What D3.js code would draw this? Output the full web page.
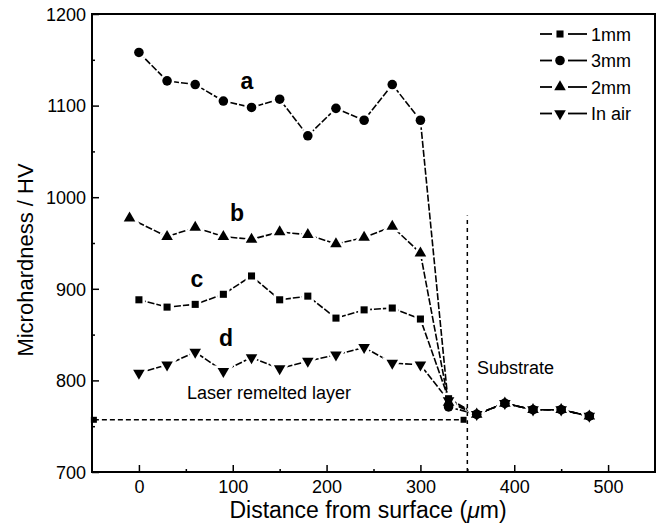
<!DOCTYPE html>
<html><head><meta charset="utf-8">
<script src="https://cdn.jsdelivr.net/npm/d3@7"></script>
<style>
body{margin:0;background:#fff;}
text{font-family:"Liberation Sans",Arial,sans-serif;fill:#000;}
</style></head>
<body><svg id="c" width="661" height="524"></svg>
<script>
// ---- data ----
const xTicks = [0, 100, 200, 300, 400, 500];
const xMinor = [50, 150, 250, 350, 450];
const yTicks = [700, 800, 900, 1000, 1100, 1200];
const yMinor = [750, 850, 950, 1050, 1150];

const depth = [0, 30, 60, 90, 120, 150, 180, 210, 240, 270, 300, 330, 360, 390, 420, 450, 480];
const depth2mm = [-10, 30, 60, 90, 120, 150, 180, 210, 240, 270, 300, 330, 360, 390, 420, 450, 480];
const hv1mm = [888, 880, 883, 894, 914, 888, 892, 868, 877, 879, 867, 780, 763, 775, 768, 768, 761];
const hv3mm = [1158, 1127, 1123, 1105, 1098, 1107, 1067, 1097, 1084, 1123, 1084, 771, 763, 775, 768, 768, 761];
const hv2mm = [977, 957, 967, 957, 954, 962, 959, 949, 956, 968, 939, 776, 763, 775, 768, 768, 761];
const hvAir = [808, 817, 831, 810, 825, 813, 821, 828, 836, 819, 817, 778, 763, 775, 768, 768, 761];

const seriesNames = ["1mm", "3mm", "2mm", "In air"];
const curveLabels = ["a", "b", "c", "d"];
const refLineX = [-48, 346];
const refLineY = [757, 757];
const boundaryX = [350, 350];
const boundaryY = [700, 980];

// ---- layout ----
const svg = d3.select("#c");
const L = 92, R = 655, T = 14, B = 472;
const x = d3.scaleLinear().domain([-50, 550]).range([L, R]);
const y = d3.scaleLinear().domain([700, 1200]).range([B, T]);

const series = [
  {name: seriesNames[0], xs: depth, ys: hv1mm, sym: d3.symbolSquare, size: 50, rot: 0},
  {name: seriesNames[1], xs: depth, ys: hv3mm, sym: d3.symbolCircle, size: 72, rot: 0},
  {name: seriesNames[2], xs: depth2mm, ys: hv2mm, sym: d3.symbolTriangle, size: 58, rot: 0},
  {name: seriesNames[3], xs: depth, ys: hvAir, sym: d3.symbolTriangle, size: 58, rot: 180}
];

// axes
const fmt = d3.format("d");
const gx = svg.append("g").attr("transform", `translate(0,${B})`)
  .call(d3.axisBottom(x).tickValues(xTicks).tickFormat(fmt).tickSizeInner(-7).tickSizeOuter(0).tickPadding(8));
const gxm = svg.append("g").attr("transform", `translate(0,${B})`)
  .call(d3.axisBottom(x).tickValues(xMinor).tickSizeInner(-3).tickSizeOuter(0).tickFormat(""));
const gy = svg.append("g").attr("transform", `translate(${L},0)`)
  .call(d3.axisLeft(y).tickValues(yTicks).tickFormat(fmt).tickSizeInner(-7).tickSizeOuter(0).tickPadding(6));
const gym = svg.append("g").attr("transform", `translate(${L},0)`)
  .call(d3.axisLeft(y).tickValues(yMinor).tickSizeInner(-3).tickSizeOuter(0).tickFormat(""));
[gx, gxm, gy, gym].forEach(g => {
  g.select(".domain").remove();
  g.selectAll("line").attr("stroke", "#000").attr("stroke-width", 1.5);
  g.selectAll("text").style("font-size", "18px").attr("fill", "#000");
});
gy.selectAll("text").attr("dy", "0.35em");

svg.append("rect").attr("x", L).attr("y", T).attr("width", R - L).attr("height", B - T)
  .attr("fill", "none").attr("stroke", "#000").attr("stroke-width", 2);

// reference lines
const line2 = d3.line().x(d => x(d[0])).y(d => y(d[1]));
svg.append("path").attr("d", line2(refLineX.map((v, i) => [v, refLineY[i]])))
  .attr("fill", "none").attr("stroke", "#000").attr("stroke-width", 1.5).attr("stroke-dasharray", "5,3");
svg.append("path").attr("d", line2(boundaryX.map((v, i) => [v, boundaryY[i]])))
  .attr("fill", "none").attr("stroke", "#000").attr("stroke-width", 1.5).attr("stroke-dasharray", "4,4");
refLineX.forEach((v, i) => {
  svg.append("rect").attr("x", x(v) - 3).attr("y", y(refLineY[i]) - 3).attr("width", 6).attr("height", 6).attr("fill", "#000");
});

// series lines
series.forEach(s => {
  const pts = s.xs.map((v, i) => [v, s.ys[i]]);
  svg.append("path").attr("d", line2(pts)).attr("fill", "none").attr("stroke", "#000")
    .attr("stroke-width", 1.6).attr("stroke-dasharray", "7,2");
});
// halos
series.forEach(s => {
  s.xs.forEach((v, i) => {
    svg.append("path").attr("d", d3.symbol(s.sym, s.size)())
      .attr("transform", `translate(${x(v)},${y(s.ys[i])}) rotate(${s.rot})`)
      .attr("fill", "#fff").attr("stroke", "#fff").attr("stroke-width", 5);
  });
});
// markers
series.forEach(s => {
  s.xs.forEach((v, i) => {
    svg.append("path").attr("d", d3.symbol(s.sym, s.size)())
      .attr("transform", `translate(${x(v)},${y(s.ys[i])}) rotate(${s.rot})`)
      .attr("fill", "#000");
  });
});

// curve labels
const labelPos = [[247, 89], [237, 221], [197, 287], [226, 346]];
curveLabels.forEach((t, i) => {
  svg.append("text").attr("x", labelPos[i][0]).attr("y", labelPos[i][1]).attr("text-anchor", "middle")
    .style("font-size", "23px").style("font-weight", "bold").text(t);
});

svg.append("text").attr("x", 187).attr("y", 399).style("font-size", "18px").text("Laser remelted layer");
svg.append("text").attr("x", 477).attr("y", 374).style("font-size", "18px").text("Substrate");

// legend
series.forEach((s, i) => {
  const cy = 34 + i * 26.5;
  const g = svg.append("g");
  g.append("line").attr("x1", 540).attr("x2", 552).attr("y1", cy).attr("y2", cy).attr("stroke", "#000").attr("stroke-width", 1.8);
  g.append("line").attr("x1", 568).attr("x2", 587).attr("y1", cy).attr("y2", cy).attr("stroke", "#000").attr("stroke-width", 1.8);
  g.append("path").attr("d", d3.symbol(s.sym, s.size)()).attr("transform", `translate(560,${cy}) rotate(${s.rot})`).attr("fill", "#000");
  g.append("text").attr("x", 591).attr("y", cy + 6.5).style("font-size", "18px").text(s.name);
});

// axis titles
svg.append("text").attr("transform", "translate(33,260) rotate(-90)").attr("text-anchor", "middle")
  .style("font-size", "22px").text("Microhardness / HV");
const xt = svg.append("text").attr("x", 368).attr("y", 518).attr("text-anchor", "middle").style("font-size", "23px");
xt.append("tspan").text("Distance from surface (");
xt.append("tspan").style("font-style", "italic").text("μ");
xt.append("tspan").text("m)");
</script></body></html>
